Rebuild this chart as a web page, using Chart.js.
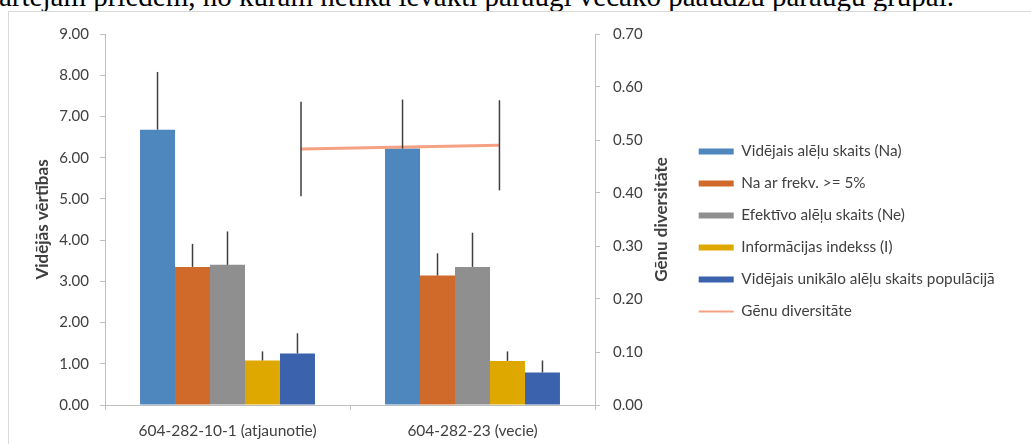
<!DOCTYPE html>
<html>
<head>
<meta charset="utf-8">
<script src="https://cdn.jsdelivr.net/npm/chart.js@4"></script>
<style>
  html, body { margin: 0; padding: 0; background: #fff; width: 1031px; height: 444px; overflow: hidden; position: relative; }
  .caption {
    position: absolute; left: -1px; top: -18px;
    font-family: "Liberation Serif", serif; font-size: 29px; line-height: 29px;
    white-space: nowrap; color: #000;
  }
  .frame {
    position: absolute; left: 8px; top: 11px; width: 1100px; height: 500px;
    border-left: 1px solid #d9d9d9; border-top: 1px solid #d9d9d9;
  }
  .chart-box { position: absolute; left: 9px; top: 12px; width: 1022px; height: 432px; }
</style>
</head>
<body>
<div class="caption">artējam priedēm, no kurām netika ievākti paraugi vecāko paaudžu paraugu grupai.</div>
<div class="frame"></div>
<div class="chart-box"><canvas id="geneChart"></canvas></div>

<script>
// ─── data ───
const categories = ['604-282-10-1 (atjaunotie)', '604-282-23 (vecie)'];

const naValues   = [6.68, 6.22];   // Vidējais alēļu skaits (Na)
const naErr      = [1.40, 1.19];
const na5Values  = [3.35, 3.14];   // Na ar frekv. >= 5%
const na5Err     = [0.56, 0.54];
const neValues   = [3.40, 3.35];   // Efektīvo alēļu skaits (Ne)
const neErr      = [0.81, 0.83];
const iValues    = [1.08, 1.07];   // Informācijas indekss (I)
const iErr       = [0.22, 0.23];
const uniqValues = [1.25, 0.79];   // unikālo alēļu skaits
const uniqErr    = [0.49, 0.29];

const heValues = [0.483, 0.490];   // Gēnu diversitāte (right axis)
const heErr    = [0.089, 0.085];
const hePos    = [0.80, 1.61];     // where excel put these points along the x axis (category i spans i..i+1)

const leftTicks  = [0, 1, 2, 3, 4, 5, 6, 7, 8, 9];
const rightTicks = [0, 0.1, 0.2, 0.3, 0.4, 0.5, 0.6, 0.7];

const barSeries = [
    { label: 'Vidējais alēļu skaits (Na)',               values: naValues,   err: naErr,   color: '#4e86be' },
    { label: 'Na ar frekv. >= 5%',                       values: na5Values,  err: na5Err,  color: '#d06a2a' },
    { label: 'Efektīvo alēļu skaits (Ne)',               values: neValues,   err: neErr,   color: '#8f8f8f' },
    { label: 'Informācijas indekss (I)',                 values: iValues,    err: iErr,    color: '#dfa800' },
    { label: 'Vidējais unikālo alēļu skaits populācijā', values: uniqValues, err: uniqErr, color: '#3b62ac' }
];
const lineLabel = 'Gēnu diversitāte';
const lineColor = '#f4a283';

const TXT = '#404040';
const AXIS = '#bfbfbf';
const FONT = 'Lato, "Open Sans", sans-serif';

// error bars: bars only get the plus side, the line gets both
const errorBars = {
    id: 'errorBars',
    afterDatasetsDraw(chart) {
        const ctx = chart.ctx;
        const y = chart.scales.y, y1 = chart.scales.y1;
        ctx.save();
        ctx.strokeStyle = '#3f3f3f';
        ctx.lineWidth = 1.5;
        barSeries.forEach(function(s, di) {
            chart.getDatasetMeta(di).data.forEach(function(bar, i) {
                ctx.beginPath();
                ctx.moveTo(bar.x, y.getPixelForValue(s.values[i]));
                ctx.lineTo(bar.x, y.getPixelForValue(s.values[i] + s.err[i]));
                ctx.stroke();
            });
        });
        chart.getDatasetMeta(barSeries.length).data.forEach(function(pt, i) {
            ctx.beginPath();
            ctx.moveTo(pt.x, y1.getPixelForValue(heValues[i] - heErr[i]));
            ctx.lineTo(pt.x, y1.getPixelForValue(heValues[i] + heErr[i]));
            ctx.stroke();
        });
        ctx.restore();
    }
};

// right title reads bottom-to-top like the left one, chart.js would flip it
const rightTitle = {
    id: 'rightTitle',
    afterDraw(chart) {
        const s = chart.scales.y1, ca = chart.chartArea;
        const ctx = chart.ctx;
        ctx.save();
        ctx.translate(s.left + 67, (ca.top + ca.bottom) / 2);
        ctx.rotate(-Math.PI / 2);
        ctx.font = 'bold 17px ' + FONT;
        ctx.fillStyle = TXT;
        ctx.textAlign = 'center';
        ctx.textBaseline = 'middle';
        ctx.fillText(lineLabel, 0, 0);
        ctx.restore();
    }
};

// fixed legend width + a small vertical nudge
const LEGEND_W = 349;
const LEGEND_SHIFT = -6;
const legendTweak = {
    id: 'legendTweak',
    afterInit(chart) {
        const lg = chart.legend;
        const fit = lg.fit.bind(lg);
        lg.fit = function() { fit(); this.width = LEGEND_W; };
    },
    afterLayout(chart) {
        chart.legend.top += LEGEND_SHIFT;
        chart.legend.bottom += LEGEND_SHIFT;
    }
};

// one linear x axis for bars and line: category i sits at i + 0.5
const datasets = barSeries.map(function(s) {
    return {
        type: 'bar',
        label: s.label,
        data: s.values.map(function(v, i) { return { x: i + 0.5, y: v }; }),
        backgroundColor: s.color,
        borderWidth: 0,
        categoryPercentage: 0.714,
        barPercentage: 1.0,
        yAxisID: 'y',
        order: 1
    };
});
datasets.push({
    type: 'line',
    label: lineLabel,
    data: heValues.map(function(v, i) { return { x: hePos[i], y: v }; }),
    borderColor: lineColor,
    backgroundColor: lineColor,
    borderWidth: 3,
    pointRadius: 0,
    tension: 0,
    yAxisID: 'y1',
    order: 0
});

new Chart(document.getElementById('geneChart').getContext('2d'), {
    type: 'bar',
    data: { datasets: datasets },
    plugins: [errorBars, rightTitle, legendTweak],
    options: {
        responsive: true,
        maintainAspectRatio: false,
        animation: false,
        layout: { padding: { top: 19, left: 0, right: 0, bottom: 0 } },
        plugins: {
            tooltip: { enabled: false },
            legend: {
                position: 'right',
                labels: {
                    usePointStyle: true,
                    pointStyleWidth: 35,
                    boxWidth: 35,
                    boxHeight: 6,
                    padding: 16.7,
                    color: TXT,
                    font: { family: FONT, size: 15.3 },
                    generateLabels: function(chart) {
                        return chart.data.datasets.map(function(ds, i) {
                            const isLine = ds.type === 'line';
                            return {
                                text: ds.label,
                                fillStyle: isLine ? ds.borderColor : ds.backgroundColor,
                                strokeStyle: isLine ? ds.borderColor : ds.backgroundColor,
                                lineWidth: isLine ? 2 : 0,
                                pointStyle: isLine ? 'line' : 'rect',
                                fontColor: TXT,
                                hidden: false,
                                datasetIndex: i
                            };
                        });
                    }
                }
            }
        },
        scales: {
            x: {
                type: 'linear',
                min: 0, max: categories.length,
                offset: false,
                afterBuildTicks: function(s) { s.ticks = categories.map(function(c, i) { return { value: i + 0.5 }; }); },
                grid: { display: true, offset: true, drawOnChartArea: false, drawTicks: true, tickLength: 5, color: AXIS },
                border: { color: AXIS },
                ticks: {
                    color: TXT, font: { family: FONT, size: 15.5 }, padding: 12, maxRotation: 0, autoSkip: false,
                    callback: function(v, i) { return categories[i]; }
                },
                afterFit: function(s) { s.height = 39; }
            },
            y: {
                position: 'left',
                min: 0, max: 9,
                afterBuildTicks: function(s) { s.ticks = leftTicks.map(function(v) { return { value: v }; }); },
                ticks: {
                    color: TXT, font: { family: FONT, size: 15 }, padding: 11,
                    callback: function(v) { return Number(v).toFixed(2); }
                },
                grid: { drawOnChartArea: false, tickLength: 5, color: AXIS },
                border: { color: AXIS },
                title: {
                    display: true, text: 'Vidējās vērtības', color: TXT,
                    font: { family: FONT, size: 17, weight: 'bold' },
                    padding: { top: 23, bottom: 0 }
                },
                afterFit: function(s) { s.width = 96; }
            },
            y1: {
                position: 'right',
                min: 0, max: 0.7,
                afterBuildTicks: function(s) { s.ticks = rightTicks.map(function(v) { return { value: v }; }); },
                ticks: {
                    color: TXT, font: { family: FONT, size: 15 }, padding: 13,
                    callback: function(v) { return Number(v).toFixed(2); }
                },
                grid: { drawOnChartArea: false, tickLength: 5, color: AXIS },
                border: { color: AXIS },
                afterFit: function(s) { s.width = 87; }
            }
        }
    }
});
</script>
</body>
</html>
